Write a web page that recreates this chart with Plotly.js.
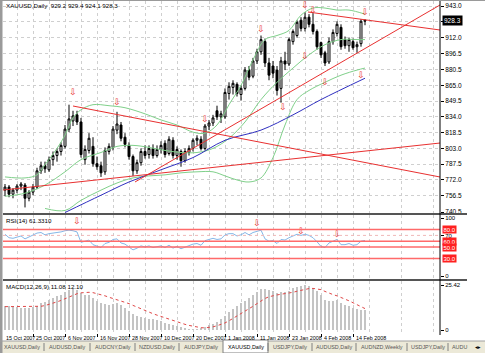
<!DOCTYPE html>
<html><head><meta charset="utf-8">
<script src="https://cdn.plot.ly/plotly-3.0.1.min.js"></script>
<style>html,body{margin:0;padding:0;background:#fff;}#chart{width:485px;height:353px;}</style>
</head><body><div id="chart"></div>
<script>
// ---------- DATA ----------
const symbolTitle = "XAUUSD,Daily  929.2 929.4 924.1 928.3";
const rsiTitle = "RSI(14) 61.3310";
const macdTitle = "MACD(12,26,9) 11.08 12.10";
const lastPrice = 928.3;

const openP  = [762,765,758,762,766,767,754,760,765,781,786,782,792,796,800,805,822,830,836,829,792,801,805,788,786,780,800,804,821,826,814,806,795,781,789,800,797,803,796,802,808,798,811,796,800,791,799,803,811,812,803,825,828,840,834,834,857,863,866,856,862,880,874,889,898,908,887,884,880,862,889,886,908,914,929,921,932,925,918,907,897,888,908,916,922,910,904,908,903,906,929.2];
const highP  = [768,767,764,768,770,769,762,768,784,790,790,795,800,803,809,826,846,840,840,833,806,818,814,795,790,804,808,825,839,829,818,809,797,792,803,806,806,807,806,810,811,815,814,805,802,803,806,813,816,815,827,831,836,845,840,862,868,870,868,865,883,884,892,901,914,911,892,889,884,893,898,912,920,929,932,937,935,936,920,908,899,912,920,928,925,913,912,911,908,930,929.4];
const lowP   = [756,755,754,759,762,745,751,757,763,778,779,780,786,790,796,803,819,825,826,794,787,798,785,782,775,777,797,801,817,810,804,792,776,778,786,793,793,793,794,798,794,796,793,792,785,789,796,800,806,801,801,821,825,831,828,832,851,856,854,850,860,870,872,886,895,883,870,872,855,848,880,884,905,912,918,918,922,915,900,892,884,886,905,913,900,901,898,900,897,903,924.1];
const closeP = [765,758,762,766,768,754,760,765,781,786,783,792,796,800,806,822,832,835,829,797,802,813,788,785,779,801,805,822,827,813,807,795,781,789,800,796,803,796,802,806,797,812,796,802,791,800,803,811,813,803,825,828,833,834,837,858,864,867,857,862,880,873,889,898,910,887,875,877,860,889,886,910,918,927,921,932,925,918,903,895,887,908,917,925,903,904,910,902,905,928,928.3];

// Bollinger bands (sparse readings: bar index / price)
const bbUpperX = [0,5,8,10,13,15,17,19,22,26,30,35,39,43,47,50,53,56,59,62,65,68,71,74,77,80,83,86,90];
const bbUpperY = [775,774,777,787,803,816,833,841,846,845,843,837,831,826,819,818,826,846,865,890,910,914,919,934,941,941,939,939,935];
const bbMidX = [0,5,10,15,19,24,28,32,36,40,44,48,52,56,60,64,68,72,76,80,84,88,90];
const bbMidY = [756,759,767,780,792,799,805,806,804,801,799,799,803,813,829,851,868,882,895,905,910,910,910];
const bbLowX = [10,15,19,24,28,32,36,40,44,48,52,55,58,61,64,67,70,73,76,80,84,88,90];
const bbLowY = [744,742,752,762,769,774,776,777,779,780,780,776,772,770,774,794,826,851,860,868,875,880,882];

// Moving average (blue)
const maX = [15,24,31,39,47,55,64,72,79,90];
const maY = [740,757,770,782,794,811,821,836,851,872];

// Trend lines (bar index / price of the two ends)
const trendA = {x:[17,108.75], y:[844.7,774.9]};
const trendB = {x:[-0.5,108.75], y:[762.1,808.3]};
const trendC = {x:[32.5,108.75], y:[770.0,944.0]};
const trendD = {x:[75.75,108.75], y:[937.1,919.4]};

// Arrow marks
const arrowMainX = [17,28,50,64,75,77,75,69.5,90,89,80];
const arrowMainY = [857.5,847.6,831,919.4,943,938,892.9,842.7,936,874,868];
const arrowRsiX = [18,63,74,83];
const arrowRsiY = [93,90,76,71];

// RSI(14)
const rsiVals = [72,66,65,67,69,64,67,70,74,75,71,73,74,74,76,78,79,78,76,58,60,62,54,51,49,56,58,63,64,57,55,50,45,48,52,50,52,49,51,52,49,53,48,51,47,50,52,55,56,53,61,63,65,63,64,71,73,73,69,71,75,71,75,77,79,64,60,61,56,63,62,66,69,72,70,72,70,66,59,51,49,57,60,63,54,54,56,53,54,60,61.3];
const rsiLevels = [80,60,50,30];
const rsiLevelText = ["80.0","60.0","50.0","30.0"];

// MACD
const macdVals = [13.5,13.3,13.1,12.9,12.7,12.6,12.5,12.8,13.5,15,16,17,18,19,20,21.5,22.5,23,22.8,21,20,19.5,18,16.5,15,14.5,14,14.5,15,14,12.5,11,9,8,7.5,7,6.5,6,5.5,5,4.2,3.5,3,2.4,1.6,1.1,0.8,0.6,0.7,0.9,1.6,2.6,3.6,4.8,6,8,10,12,13.5,15,16.5,18,20,21.5,23,23,22.5,22,21,21.5,21.5,22,23.5,24.5,25,25.42,25,24,22,19.5,17,16.5,16.5,17,15.5,14,13.5,12.5,11.8,11.4,11.08];
const signalVals = [13.2,13.2,13.1,13.1,13.0,13.0,13.0,13.0,13.1,13.4,13.8,14.4,15.1,15.9,16.7,17.7,18.7,19.6,20.5,21.0,21.2,21.3,21.1,20.6,20.0,19.3,18.5,17.8,17.2,16.6,15.8,14.9,13.9,12.9,11.9,11.0,10.1,9.2,8.4,7.6,6.8,6.0,5.3,4.6,3.9,3.2,2.6,2.1,1.6,1.3,1.2,1.4,1.8,2.4,3.1,4.0,5.2,6.5,7.8,9.1,10.5,12.0,13.4,14.9,16.5,17.8,18.8,19.5,19.8,20.2,20.5,20.8,21.3,21.9,22.5,23.0,23.4,23.5,23.3,22.8,21.8,20.8,20.0,19.3,18.5,17.5,16.5,15.4,14.2,13.1,12.1];

// Axis labels
const priceTicks = [943.0,927.5,912.0,896.5,880.5,865.0,849.5,834.0,818.5,803.0,787.5,772.0,756.5,740.5];
const priceTickText = ["943.0","927.5","912.0","896.5","880.5","865.0","849.5","834.0","818.5","803.0","787.5","772.0","756.5","740.5"];
const dateLabels = ["15 Oct 2007","25 Oct 2007","6 Nov 2007","16 Nov 2007","28 Nov 2007","10 Dec 2007","20 Dec 2007","1 Jan 2008","11 Jan 2008","23 Jan 2008","4 Feb 2008","14 Feb 2008"];
const tabLabels = ["XAUUSD,Daily","AUDUSD,Daily","AUDCNY,Daily","NZDUSD,Daily","AUDJPY,Daily","XAUUSD,Daily","USDJPY,Daily","AUDUSD,Daily","AUDNZD,Weekly","USDJPY,Daily","AUDU"];
const activeTab = 5;

// ---------- LAYOUT HELPERS ----------
const W = 485, H = 353, ML = 3, MR = 45, MT = 1, MB = 20;
const PW = W - ML - MR, PH = H - MT - MB;
const px = x => (x - ML) / PW;           // pixel x -> paper
const py = y => (H - MB - y) / PH;       // pixel y -> paper
const XR = [-0.5, 108.75];
const barPx = i => ML + (i - XR[0]) / (XR[1] - XR[0]) * PW;   // bar index -> pixel x
const FONT = "Liberation Sans, Arial, sans-serif";
const idx = closeP.map((_, i) => i);

const traces = [];
traces.push({type:'candlestick', x: idx, open: openP, high: highP, low: lowP, close: closeP,
  xaxis:'x', yaxis:'y', whiskerwidth:0,
  increasing:{line:{color:'#000', width:1}, fillcolor:'#fff'},
  decreasing:{line:{color:'#000', width:1}, fillcolor:'#000'},
  hoverinfo:'skip', showlegend:false});
const green = '#7fd08a';
[[bbUpperX,bbUpperY],[bbMidX,bbMidY],[bbLowX,bbLowY]].forEach(([xs,ys]) => traces.push({
  type:'scatter', mode:'lines', x: xs, y: ys, xaxis:'x', yaxis:'y', line:{color:green, width:1, shape:'spline', smoothing:1}, hoverinfo:'skip', showlegend:false}));
traces.push({type:'scatter', mode:'lines', x: maX, y: maY, xaxis:'x', yaxis:'y', line:{color:'#3030c0', width:1, shape:'spline'}, hoverinfo:'skip', showlegend:false});
[trendA, trendB, trendC, trendD].forEach(t => traces.push({type:'scatter', mode:'lines', x:t.x, y:t.y, xaxis:'x', yaxis:'y',
  line:{color:'#e83030', width:1}, hoverinfo:'skip', showlegend:false}));
traces.push({type:'scatter', mode:'text', x: arrowMainX, y: arrowMainY, text: arrowMainX.map(()=>'⇩'), xaxis:'x', yaxis:'y',
  textfont:{color:'#e83030', size:9, family:'DejaVu Sans'}, hoverinfo:'skip', showlegend:false, cliponaxis:false});

// RSI
traces.push({type:'scatter', mode:'lines', x: idx, y: rsiVals, xaxis:'x2', yaxis:'y2', line:{color:'#86b8e8', width:1}, hoverinfo:'skip', showlegend:false});
traces.push({type:'scatter', mode:'text', x: arrowRsiX, y: arrowRsiY, text: arrowRsiX.map(()=>'⇩'), xaxis:'x2', yaxis:'y2',
  textfont:{color:'#e83030', size:9, family:'DejaVu Sans'}, hoverinfo:'skip', showlegend:false, cliponaxis:false});

// MACD
traces.push({type:'bar', x: idx, y: macdVals, xaxis:'x3', yaxis:'y3', width:0.3, marker:{color:'#c4c4c4', line:{width:0}}, hoverinfo:'skip', showlegend:false});
traces.push({type:'scatter', mode:'lines', x: idx, y: signalVals, xaxis:'x3', yaxis:'y3', line:{color:'#e04848', width:1, dash:'dot'}, hoverinfo:'skip', showlegend:false});

const labelTicks = dateLabels.map((_, k) => 8*k - 1);
const xbase = {range: XR, showline:false, zeroline:false, tickvals: labelTicks, showticklabels:false,
  showgrid:true, gridcolor:'#cfcfcf', griddash:'dot', gridwidth:1, ticks:'',
  minor:{tick0:3, dtick:8, showgrid:true, gridcolor:'#cfcfcf', griddash:'dot', gridwidth:1},
  rangeslider:{visible:false}, fixedrange:true};

const layout = {
  width: W, height: H, margin:{l:ML, r:MR, t:MT, b:MB, pad:0},
  paper_bgcolor:'#fff', plot_bgcolor:'#fff', showlegend:false, bargap:0,
  font:{family:FONT, size:7, color:'#000'},
  xaxis: Object.assign({}, xbase, {anchor:'y'}),
  xaxis2: Object.assign({}, xbase, {anchor:'y2', matches:'x'}),
  xaxis3: Object.assign({}, xbase, {anchor:'y3', matches:'x', ticks:'outside', ticklen:3, tickcolor:'#000'}),
  yaxis: {domain:[py(213), py(1)], range:[739.52, 947.92], side:'right', tickvals: priceTicks, ticktext: priceTickText,
    ticks:'outside', ticklen:3, tickcolor:'#000', tickfont:{size:6.5, family:FONT},
    showgrid:true, gridcolor:'#cfcfcf', griddash:'dot', zeroline:false, fixedrange:true},
  yaxis2: {domain:[py(278), py(215)], range:[-3.45, 105.17], side:'right', tickvals:[100,70,0], ticktext:['100','70','0'],
    ticks:'outside', ticklen:3, tickcolor:'#000', tickfont:{size:6, family:FONT}, showgrid:false, zeroline:false, fixedrange:true},
  yaxis3: {domain:[0, py(281)], range:[-1.69, 27.68], side:'right', tickvals:[25.42,0], ticktext:['25.42','0'],
    ticks:'outside', ticklen:3, tickcolor:'#000', tickfont:{size:6, family:FONT}, showgrid:false, zeroline:false, fixedrange:true},
  shapes: [], annotations: []
};

// RSI level lines
rsiLevels.forEach((v, k) => {
  layout.shapes.push({type:'line', xref:'paper', yref:'y2', x0:0, x1:1, y0:v, y1:v, line:{color:'#ff6a6a', width:1.5}});
  layout.annotations.push({xref:'paper', yref:'y2', x: px(442), y: v, text: rsiLevelText[k], showarrow:false,
    xanchor:'left', yanchor:'middle', bgcolor:'#ff2020', font:{color:'#fff', size:6, family:FONT}, borderpad:0.5});
});
layout.shapes.push({type:'line', xref:'paper', yref:'y2', x0:0, x1:1, y0:70, y1:70, line:{color:'#f0b8b8', width:1, dash:'dot'}});

// panel separators and frame
layout.shapes.push({type:'line', xref:'paper', yref:'paper', x0:0, x1:px(467), y0:py(214), y1:py(214), line:{color:'#555', width:2}});
layout.shapes.push({type:'line', xref:'paper', yref:'paper', x0:0, x1:px(467), y0:py(280), y1:py(280), line:{color:'#555', width:2}});
layout.shapes.push({type:'line', xref:'paper', yref:'paper', x0:1, x1:1, y0:py(335), y1:py(0), line:{color:'#000', width:1}});
layout.shapes.push({type:'rect', xref:'paper', yref:'paper', x0:px(0), x1:px(2.5), y0:py(353), y1:py(0), line:{width:0}, fillcolor:'#9a9a9a', layer:'above'});
layout.shapes.push({type:'rect', xref:'paper', yref:'paper', x0:px(0), x1:px(485), y0:py(1), y1:py(0), line:{width:0}, fillcolor:'#9a9a9a', layer:'above'});

// current price box
layout.annotations.push({xref:'paper', yref:'y', x: px(442), y: lastPrice, text: lastPrice.toFixed(1), showarrow:false,
  xanchor:'left', yanchor:'middle', bgcolor:'#000', font:{color:'#fff', size:6.5, family:FONT}, borderpad:1});

// panel titles
[[symbolTitle, 6],[rsiTitle, 220],[macdTitle, 286]].forEach(([t, y]) => layout.annotations.push({
  xref:'paper', yref:'paper', x: px(4), y: py(y), text: t, showarrow:false, xanchor:'left', yanchor:'middle',
  font:{size:6.2, family:FONT, color:'#000'}}));

// date labels (left-aligned at their tick, as in the terminal)
dateLabels.forEach((t, k) => layout.annotations.push({xref:'paper', yref:'paper', x: px(Math.max(barPx(labelTicks[k]) + 1, 3.5)), y: py(337.5), text: t,
  showarrow:false, xanchor:'left', yanchor:'middle', font:{size:5.4, family:FONT, color:'#000'}}));

// tab bar
const tabEdges = [0, 44, 90, 135, 179, 223, 268, 312, 356, 407, 448, 470];
layout.shapes.push({type:'rect', xref:'paper', yref:'paper', x0:px(0), x1:px(485), y0:py(353), y1:py(341), line:{width:0}, fillcolor:'#ece9d8', layer:'below'});
layout.shapes.push({type:'line', xref:'paper', yref:'paper', x0:px(0), x1:px(485), y0:py(341), y1:py(341), line:{color:'#a0a0a0', width:1}});
tabLabels.forEach((t, k) => {
  const x0 = tabEdges[k], x1 = tabEdges[k+1];
  if (k === activeTab) {
    layout.shapes.push({type:'rect', xref:'paper', yref:'paper', x0:px(x0), x1:px(x1), y0:py(353), y1:py(340), line:{color:'#808080', width:1}, fillcolor:'#fff'});
  } else if (k > 0) {
    layout.shapes.push({type:'line', xref:'paper', yref:'paper', x0:px(x0), x1:px(x0), y0:py(351), y1:py(343), line:{color:'#808080', width:1}});
  }
  layout.annotations.push({xref:'paper', yref:'paper', x: px((x0+x1)/2), y: py(347), text: t, showarrow:false,
    xanchor:'center', yanchor:'middle', font:{size:5.4, family:FONT, color: k === activeTab ? '#000' : '#555'}});
});
layout.annotations.push({xref:'paper', yref:'paper', x: px(478), y: py(347), text:'◂▸', showarrow:false,
  xanchor:'center', yanchor:'middle', font:{size:5.5, family:'DejaVu Sans', color:'#000'}});

Plotly.newPlot('chart', traces, layout, {staticPlot:true, displayModeBar:false});
</script></body></html>
